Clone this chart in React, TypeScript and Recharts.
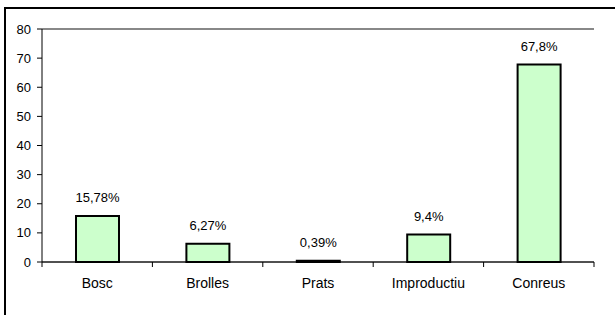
import React from 'react';
import { BarChart, Bar, XAxis, YAxis, CartesianGrid, LabelList, ReferenceLine } from 'recharts';

const categories = ['Bosc', 'Brolles', 'Prats', 'Improductiu', 'Conreus'];
const values = [15.78, 6.27, 0.39, 9.4, 67.8];
const valueLabels = ['15,78%', '6,27%', '0,39%', '9,4%', '67,8%'];
const yTicks = [0, 10, 20, 30, 40, 50, 60, 70, 80];

const data = categories.map((name, i) => ({ name, value: values[i], label: valueLabels[i] }));

const FONT = '"Liberation Sans", Arial, Helvetica, sans-serif';
const W = 615;
const H = 315;
const MARGIN = { top: 29, right: 21, bottom: 23, left: 0 };
const Y_AXIS_W = 42;
const X_TICK_SIZE = 5;
const X_TICK_MARGIN = 11;

const CategoryTick = (props: any) => {
  const { x, y, payload, index, visibleTicksCount } = props;
  const count = visibleTicksCount || categories.length;
  const axisW =
    typeof props.width === 'number' && props.width > 0
      ? props.width
      : W - MARGIN.left - MARGIN.right - Y_AXIS_W;
  const bw = axisW / count;
  const axisY = y - X_TICK_SIZE - X_TICK_MARGIN;
  const left = x - bw / 2;
  const right = x + bw / 2;
  return (
    <g>
      <line x1={left} x2={left} y1={axisY} y2={axisY + X_TICK_SIZE} stroke="#000" strokeWidth={1} />
      {index === count - 1 && (
        <line x1={right} x2={right} y1={axisY} y2={axisY + X_TICK_SIZE} stroke="#000" strokeWidth={1} />
      )}
      <text x={x} y={y} dy="0.71em" textAnchor="middle" fill="#000" fontSize={14} fontFamily={FONT}>
        {payload.value}
      </text>
    </g>
  );
};

export default function App() {
  return (
    <div
      style={{
        position: 'absolute',
        left: 0,
        top: 0,
        width: W,
        height: H,
        overflow: 'hidden',
        background: '#fff',
      }}
    >
      <div
        style={{
          position: 'absolute',
          left: 4,
          top: 7,
          width: W + 20,
          height: H + 20,
          borderLeft: '2px solid #000',
          borderTop: '2px solid #000',
        }}
      />
      <div style={{ position: 'absolute', left: 0, top: 0 }}>
        <BarChart width={W} height={H} data={data} margin={MARGIN}>
          <CartesianGrid horizontal vertical={false} stroke="#444" strokeWidth={1} />
          <XAxis
            dataKey="name"
            axisLine={{ stroke: '#000', strokeWidth: 1 }}
            tickLine={false}
            tickSize={X_TICK_SIZE}
            tickMargin={X_TICK_MARGIN}
            height={30}
            interval={0}
            tick={<CategoryTick />}
          />
          <YAxis
            yAxisId="left"
            type="number"
            domain={[0, 80]}
            ticks={yTicks}
            width={Y_AXIS_W}
            axisLine={{ stroke: '#000', strokeWidth: 1 }}
            tickLine={{ stroke: '#000', strokeWidth: 1 }}
            tickSize={5}
            tickMargin={6}
            tick={{ fill: '#000', fontSize: 13, fontFamily: FONT }}
            interval={0}
          />
          <YAxis
            yAxisId="right"
            orientation="right"
            type="number"
            domain={[0, 80]}
            width={0}
            tick={false}
            tickLine={false}
            axisLine={{ stroke: '#888', strokeWidth: 2 }}
          />
          <ReferenceLine yAxisId="left" y={80} stroke="#888" strokeWidth={2} />
          <Bar
            yAxisId="left"
            dataKey="value"
            fill="#CCFFCC"
            stroke="#000"
            strokeWidth={2}
            barSize={43}
            isAnimationActive={false}
          >
            <LabelList
              dataKey="label"
              position="top"
              offset={14}
              fill="#000"
              fontSize={13}
              fontFamily={FONT}
            />
          </Bar>
        </BarChart>
      </div>
    </div>
  );
}
